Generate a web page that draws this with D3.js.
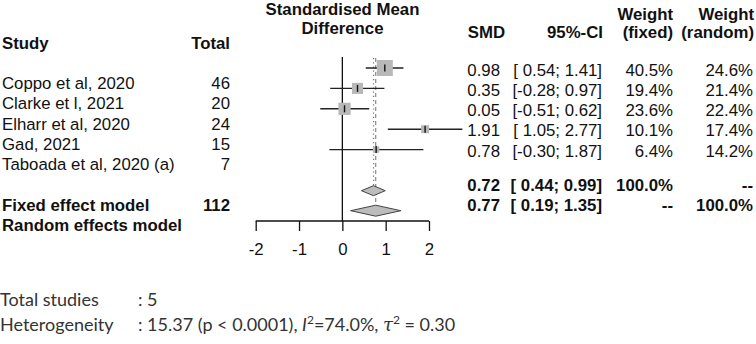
<!DOCTYPE html>
<html>
<head>
<meta charset="utf-8">
<script src="https://cdn.jsdelivr.net/npm/d3@7"></script>
<style>
	body { margin: 0; background: #fff; }
	svg { display: block; }
	text { font-family: "Liberation Sans", Arial, sans-serif; fill: #111; }
</style>
</head>
<body>
<div class="graph"></div>
<script>
	var studies = ["Coppo et al, 2020", "Clarke et l, 2021", "Elharr et al, 2020", "Gad, 2021", "Taboada et al, 2020 (a)"];
	var totals = [46, 20, 24, 15, 7];
	var smd = [0.98, 0.35, 0.05, 1.91, 0.78];
	var ciLow = [0.54, -0.28, -0.51, 1.05, -0.30];
	var ciHigh = [1.41, 0.97, 0.62, 2.77, 1.87];
	var weightFixed = [40.5, 19.4, 23.6, 10.1, 6.4];
	var weightRandom = [24.6, 21.4, 22.4, 17.4, 14.2];

	var models = ["Fixed effect model", "Random effects model"];
	var modelTotal = ["112", ""];
	var modelSmd = [0.72, 0.77];
	var modelLow = [0.44, 0.19];
	var modelHigh = [0.99, 1.35];
	var modelWFixed = ["100.0%", "--"];
	var modelWRandom = ["--", "100.0%"];

	var xTicks = [-2, -1, 0, 1, 2];

	const WIDTH = 756;
	const HEIGHT = 344;
	const FS = 16.8;

	var svg = d3.select(".graph").append("svg")
		.attr("width", WIDTH)
		.attr("height", HEIGHT);

	var xScale = d3.scaleLinear().domain([-2, 2]).range([255.7, 429]);
	var sizeScale = d3.scaleSqrt().domain([0, 40.5]).range([0, 16]);

	// three row scales: the left table, the plot and the right table do not line up in the original
	var plotY = d3.scaleLinear().domain([0, 1]).range([68, 88.4]);
	var leftY = d3.scaleLinear().domain([0, 1]).range([83, 103.4]);
	var rightY = d3.scaleLinear().domain([0, 1]).range([70, 90.2]);
	var plotModelY = [190.7, 210.7];
	var leftModelY = [205, 225];
	var rightModelY = [185, 205];

	// plain hyphen for negatives, like the original
	var locale = d3.formatLocale({decimal: ".", thousands: ",", grouping: [3], currency: ["", ""], minus: "-"});
	var fmt = locale.format(".2f");
	var ciText = function(lo, hi){
		var a = lo < 0 ? fmt(lo) : " " + fmt(lo);
		return "[" + a + "; " + fmt(hi) + "]";
	};

	var txt = function(x, y, s, anchor, bold){
		return svg.append("text")
			.attr("x", x).attr("y", y).attr("dy", "0.35em")
			.attr("text-anchor", anchor || "start")
			.attr("font-size", FS)
			.attr("font-weight", bold ? "bold" : "normal")
			.attr("xml:space", "preserve")
			.text(s);
	};

	// headers
	txt(342.5, 9, "Standardised Mean", "middle", true);
	txt(342.5, 28, "Difference", "middle", true);
	txt(2, 43, "Study", "start", true);
	txt(230, 43, "Total", "end", true);
	txt(505, 32, "SMD", "end", true);
	txt(603, 32, "95%-CI", "end", true);
	txt(673, 14, "Weight", "end", true);
	txt(673, 32, "(fixed)", "end", true);
	txt(754, 14, "Weight", "end", true);
	txt(754, 32, "(random)", "end", true);

	// study rows
	studies.forEach(function(s, i){
		txt(2, leftY(i), s);
		txt(230, leftY(i), totals[i], "end");
		txt(500, rightY(i), fmt(smd[i]), "end");
		txt(602, rightY(i), ciText(ciLow[i], ciHigh[i]), "end");
		txt(673, rightY(i), weightFixed[i].toFixed(1) + "%", "end");
		txt(753, rightY(i), weightRandom[i].toFixed(1) + "%", "end");
	});

	models.forEach(function(m, i){
		txt(2, leftModelY[i], m, "start", true);
		txt(230, leftModelY[i], modelTotal[i], "end", true);
		txt(500, rightModelY[i], fmt(modelSmd[i]), "end", true);
		txt(602, rightModelY[i], ciText(modelLow[i], modelHigh[i]), "end", true);
		txt(673, rightModelY[i], modelWFixed[i], "end", true);
		txt(753, rightModelY[i], modelWRandom[i], "end", true);
	});

	// reference lines
	svg.append("line")
		.attr("x1", xScale(0)).attr("x2", xScale(0))
		.attr("y1", 57).attr("y2", 221)
		.attr("stroke", "#111").attr("stroke-width", 1.3);

	svg.append("line")
		.attr("x1", xScale(modelSmd[0])).attr("x2", xScale(modelSmd[0]))
		.attr("y1", 58).attr("y2", plotModelY[0] - 5)
		.attr("stroke", "#777").attr("stroke-width", 1.2)
		.attr("stroke-dasharray", "1.2,3");

	svg.append("line")
		.attr("x1", xScale(modelSmd[1])).attr("x2", xScale(modelSmd[1]))
		.attr("y1", 58).attr("y2", plotModelY[1] - 5.5)
		.attr("stroke", "#888").attr("stroke-width", 1.2)
		.attr("stroke-dasharray", "4,3");

	// studies: CI lines, squares, centre ticks
	var g = svg.append("g").attr("class", "studies");

	g.selectAll(".ci").data(smd).enter().append("line")
		.attr("class", "ci")
		.attr("x1", function(d, i){ return xScale(ciLow[i]); })
		.attr("x2", function(d, i){ return xScale(ciHigh[i]); })
		.attr("y1", function(d, i){ return plotY(i); })
		.attr("y2", function(d, i){ return plotY(i); })
		.attr("stroke", "#222").attr("stroke-width", 1.4);

	g.selectAll(".box").data(smd).enter().append("rect")
		.attr("class", "box")
		.attr("x", function(d, i){ return xScale(d) - sizeScale(weightFixed[i]) / 2; })
		.attr("y", function(d, i){ return plotY(i) - sizeScale(weightFixed[i]) / 2; })
		.attr("width", function(d, i){ return sizeScale(weightFixed[i]); })
		.attr("height", function(d, i){ return sizeScale(weightFixed[i]); })
		.attr("fill", "#b8b8b8");

	g.selectAll(".est").data(smd).enter().append("line")
		.attr("class", "est")
		.attr("x1", function(d){ return xScale(d); })
		.attr("x2", function(d){ return xScale(d); })
		.attr("y1", function(d, i){ return plotY(i) - 3.5; })
		.attr("y2", function(d, i){ return plotY(i) + 3.5; })
		.attr("stroke", "#111").attr("stroke-width", 1.4);

	// diamonds
	var halfH = [5, 5.5];
	svg.selectAll(".diamond").data(modelSmd).enter().append("path")
		.attr("class", "diamond")
		.attr("d", function(d, i){
			var y = plotModelY[i], h = halfH[i];
			return "M" + xScale(modelLow[i]) + "," + y +
				"L" + xScale(d) + "," + (y - h) +
				"L" + xScale(modelHigh[i]) + "," + y +
				"L" + xScale(d) + "," + (y + h) + "Z";
		})
		.attr("fill", "#bcbcbc")
		.attr("stroke", "#444").attr("stroke-width", 1);

	// axis
	var xAxis = d3.axisBottom(xScale).tickValues(xTicks).tickSize(10).tickPadding(12)
		.tickFormat(locale.format("d"));
	var ax = svg.append("g")
		.attr("class", "x axis")
		.attr("transform", "translate(0,221)")
		.call(xAxis);
	ax.select(".domain").attr("stroke", "#111").attr("stroke-width", 1.3)
		.attr("d", "M" + xScale(-2) + ",0H" + xScale(2));
	ax.selectAll(".tick line").attr("stroke", "#111").attr("stroke-width", 1.3);
	ax.selectAll(".tick text")
		.attr("font-size", FS)
		.attr("font-family", "Liberation Sans, Arial, sans-serif")
		.attr("fill", "#111");

	// summary lines at the bottom
	var foot = svg.append("g");
	var ftxt = function(x, y){
		return foot.append("text")
			.attr("x", x).attr("y", y).attr("dy", "0.35em")
			.attr("font-size", 18)
			.style("font-family", "Lato, sans-serif")
			.style("fill", "#333");
	};
	ftxt(0, 300).text("Total studies");
	ftxt(138, 300).text(": 5");
	ftxt(0, 325).text("Heterogeneity");
	var h = ftxt(138, 325);
	h.append("tspan").text(": 15.37 (p < 0.0001), ");
	h.append("tspan").attr("font-style", "italic").text("I");
	h.append("tspan").attr("font-size", 12).attr("baseline-shift", "super").text("2");
	h.append("tspan").text("=74.0%, ");
	h.append("tspan").attr("font-style", "italic").style("font-family", "DejaVu Serif, serif").text("\u03C4");
	h.append("tspan").attr("font-size", 12).attr("baseline-shift", "super").text("2");
	h.append("tspan").text(" = 0.30");
</script>
</body>
</html>
